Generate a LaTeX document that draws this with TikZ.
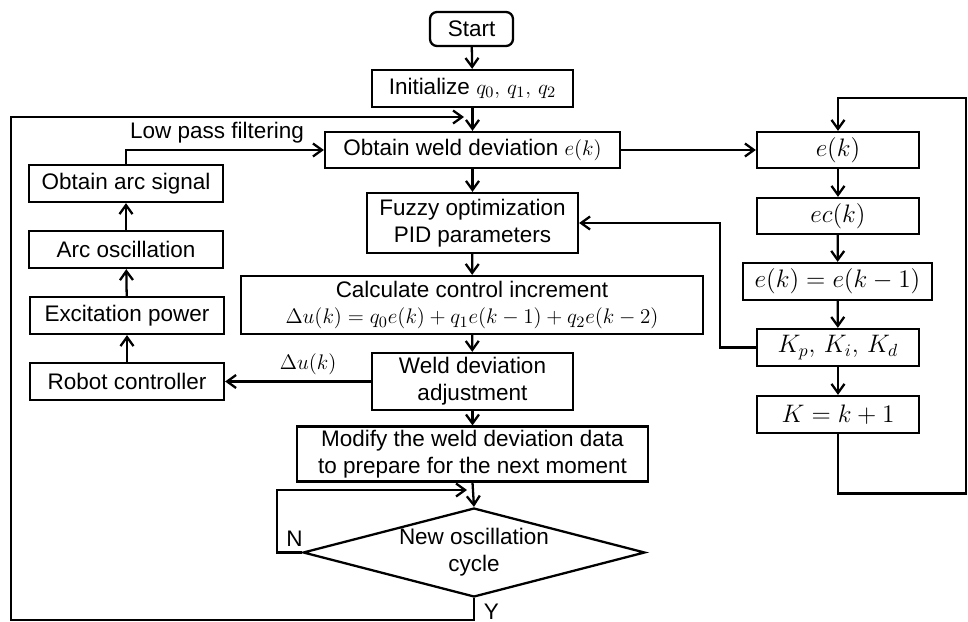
\documentclass[tikz,border=0pt]{standalone}
\usepackage{amsmath}
\usepackage{fontspec}
\setmainfont{Liberation Sans}
\usetikzlibrary{arrows.meta,positioning,shapes.geometric,calc}

\begin{document}
\begin{tikzpicture}[
  x=0.02cm, y=-0.02cm,
  font=\fontsize{12.8}{15.3}\selectfont,
  box/.style={rectangle, draw=black, line width=1.3pt, minimum width=3.88cm, minimum height=0.74cm, align=center, inner sep=2pt},
  sidebox/.style={box, minimum width=3.24cm, font=\fontsize{14.2}{16}\selectfont},
  startbox/.style={box, rounded corners=4pt, minimum width=1.66cm, minimum height=0.68cm},
  decision/.style={diamond, aspect=3.84, draw=black, line width=1.3pt, align=center, minimum width=6.84cm, minimum height=1.78cm, inner sep=0pt},
  arrow/.style={-{Straight Barb[length=1.8mm, width=2.6mm]}, line width=1.3pt},
]
\useasboundingbox (0,0) rectangle (968,622);

% Main column
\node[startbox] (start) at (471.5,29) {Start};
\node[box, minimum width=4.02cm] (init) at (472.5,88.5) {Initialize $q_0,\,q_1,\,q_2$};
\node[box, minimum width=5.9cm, minimum height=0.72cm] (obtain) at (472.5,150) {Obtain weld deviation $e(k)$};
\node[box, minimum width=4.22cm, minimum height=1.2cm] (fuzzy) at (472.5,223) {Fuzzy optimization\\PID parameters};
\node[box, minimum width=9.24cm, minimum height=1.16cm] (calc) at (472,305) {Calculate control increment\\$\Delta u(k)=q_0e(k)+q_1e(k-1)+q_2e(k-2)$};
\node[box, minimum width=4.02cm, minimum height=1.14cm] (adjust) at (472.5,381.5) {Weld deviation\\adjustment};
\node[box, minimum width=7.02cm, minimum height=1.04cm] (modify) at (472.5,454) {Modify the weld deviation data\\to prepare for the next moment};
\node[decision] (cycle) at (474,552.5) {New oscillation\\cycle};

% Left column
\node[box] (arcsig) at (126,183.5) {Obtain arc signal};
\node[box] (arcosc) at (126,249.5) {Arc oscillation};
\node[box] (excite) at (127,315.5) {Excitation power};
\node[box] (robot) at (127,381.5) {Robot controller};

% Right column
\node[sidebox, minimum height=0.72cm] (ek) at (838,150) {$e(k)$};
\node[sidebox, minimum height=0.72cm] (eck) at (838,216) {$ec(k)$};
\node[sidebox, minimum width=3.78cm] (ekk) at (837.5,281.5) {$e(k)=e(k-1)$};
\node[sidebox] (kpid) at (838,347.5) {$K_p,\,K_i,\,K_d$};
\node[sidebox] (kinc) at (838,414.5) {$K=k+1$};

% Loop entry points
\coordinate (loopin) at (464,117);
\coordinate (nin) at (467,490);

% Arrows
\draw[arrow] (start) -- (init);
\draw[arrow] (init) -- (obtain);
\draw[arrow] (obtain) -- (fuzzy);
\draw[arrow] (fuzzy) -- (calc);
\draw[arrow] (calc) -- (adjust);
\draw[arrow] (adjust) -- (modify);
\draw[arrow] (modify.south) -- (cycle.north);
\draw[arrow] (adjust.west) -- node[above, pos=0.43] {$\Delta u(k)$} (robot.east);
\draw[arrow] (robot) -- (excite);
\draw[arrow] (excite) -- (arcosc);
\draw[arrow] (arcosc) -- (arcsig);
\draw[arrow] (arcsig.north) |- node[above, pos=0.73] {Low pass filtering} (obtain.west);
\draw[arrow] (obtain.east) -- (ek.west);
\draw[arrow] (ek) -- (eck);
\draw[arrow] (eck) -- (ekk);
\draw[arrow] (ekk) -- (kpid);
\draw[arrow] (kpid) -- (kinc);
\draw[arrow] (kpid.west) -- ++(-36,0) |- (fuzzy.east);
\draw[arrow] (kinc.south) -- ++(0,59.5) -| (966,98) -| (ek.north);
\draw[arrow] (cycle.west) node[above left, inner sep=1pt, xshift=2pt, yshift=2pt] {N} -- ++(-25,0) |- (nin);
\draw[arrow] (cycle.south) node[right, inner sep=1pt, yshift=-8pt, xshift=4pt] {Y} |- (11,620) |- (loopin);

\end{tikzpicture}
\end{document}
